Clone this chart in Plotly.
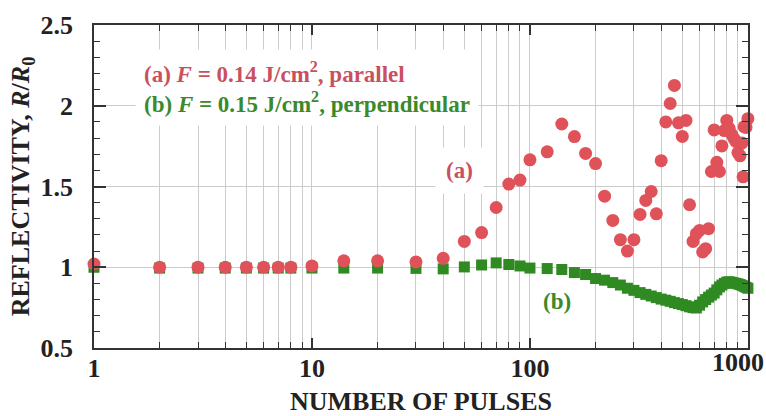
import plotly.graph_objects as go

# ---- data ----
pulses_a = [1, 2, 3, 4, 5, 6, 7, 8, 10, 14, 20, 30, 40, 50, 60, 70, 80, 90, 100,
            120, 140, 160, 180, 200, 220, 240, 260, 280, 300, 320, 340, 360, 380,
            400, 420, 440, 460, 480, 500, 520, 540, 560, 580, 600, 620, 640, 660,
            680, 700, 720, 740, 760, 780, 800, 820, 840, 860, 880, 900, 920, 940,
            950, 960, 980, 1000]
refl_a = [1.02, 1.0, 1.0, 1.0, 1.0, 1.0, 1.0, 1.0, 1.008, 1.04, 1.04, 1.033, 1.055,
          1.16, 1.215, 1.37, 1.515, 1.54, 1.665, 1.715, 1.887, 1.809, 1.705, 1.642,
          1.44, 1.29, 1.171, 1.10, 1.171, 1.327, 1.414, 1.469, 1.331, 1.66, 1.90,
          2.014, 2.126, 1.894, 1.81, 1.909, 1.387, 1.16, 1.208, 1.228, 1.095, 1.115,
          1.239, 1.593, 1.85, 1.65, 1.593, 1.751, 1.846, 1.909, 1.86, 1.825, 1.80,
          1.78, 1.71, 1.69, 1.77, 1.56, 1.87, 1.866, 1.92]

pulses_b = [1, 2, 3, 4, 5, 6, 7, 8, 10, 14, 20, 30, 40, 50, 60, 70, 80, 90, 100,
            120, 140, 160, 180, 200, 220, 240, 260, 280, 300, 320, 340, 360, 380,
            400, 420, 440, 460, 480, 500, 520, 540, 560, 580, 600, 620, 640, 660,
            680, 700, 720, 740, 760, 780, 800, 820, 840, 860, 880, 900, 920, 940,
            960, 980, 1000]
refl_b = [1.0, 0.995, 0.995, 0.995, 0.995, 0.995, 0.995, 0.995, 0.995, 0.995, 0.995,
          0.993, 0.99, 1.002, 1.014, 1.027, 1.017, 1.008, 0.995, 0.992, 0.986, 0.967,
          0.955, 0.93, 0.92, 0.905, 0.89, 0.87, 0.857, 0.843, 0.832, 0.822, 0.812,
          0.803, 0.796, 0.789, 0.781, 0.775, 0.769, 0.762, 0.755, 0.75, 0.748, 0.765,
          0.785, 0.80, 0.815, 0.828, 0.84, 0.86, 0.878, 0.89, 0.90, 0.908, 0.91,
          0.907, 0.903, 0.90, 0.897, 0.893, 0.888, 0.882, 0.876, 0.87]

x_tick_vals = [1, 10, 100]
x_tick_text = ["1", "10", "100"]
x_end_vals = [1000]
x_end_text = ["1000"]
x_minor_vals = [m * d for d in (1, 10, 100) for m in range(2, 10)]
y_tick_vals = [0.5, 1, 1.5, 2, 2.5]
y_tick_text = ["0.5", "1", "1.5", "2", "2.5"]

RED = "#E0525A"
GREEN = "#2F8A22"
RED_TXT = "#C9505E"
GREEN_TXT = "#3A8A2C"
FONT = "Liberation Serif"
GRID = "#CCCCCC"
AX = "#333333"
TXT = "#222222"
X_RANGE = [0, 3.0004]

fig = go.Figure()
fig.add_trace(go.Scatter(x=pulses_b, y=refl_b, mode="markers", cliponaxis=False,
                         marker=dict(symbol="square", size=11, color=GREEN),
                         showlegend=False, hoverinfo="skip"))
fig.add_trace(go.Scatter(x=pulses_a, y=refl_a, mode="markers", cliponaxis=False,
                         marker=dict(symbol="circle", size=13, color=RED),
                         showlegend=False, hoverinfo="skip"))
# empty helper trace so that the overlay axis carrying the "1000" label is drawn
fig.add_trace(go.Scatter(x=[], y=[], xaxis="x2", yaxis="y", mode="markers",
                         showlegend=False, hoverinfo="skip"))

tickfont = dict(family=FONT, size=26, color=TXT, weight="bold")

fig.update_layout(
    width=766, height=416,
    margin=dict(l=94, r=18, t=25, b=68),
    paper_bgcolor="white", plot_bgcolor="white",
    font=dict(family=FONT, size=21, color=TXT),
    xaxis=dict(
        type="log", range=X_RANGE, automargin=False,
        tickmode="array", tickvals=x_tick_vals, ticktext=x_tick_text,
        ticks="inside", ticklen=10, tickwidth=1.5, tickcolor=AX,
        showgrid=True, gridcolor=GRID, gridwidth=1,
        minor=dict(tickmode="array", tickvals=x_minor_vals, ticks="inside",
                   ticklen=6, tickwidth=1, tickcolor=AX,
                   showgrid=True, gridcolor=GRID, gridwidth=1),
        showline=True, linecolor=AX, linewidth=1.5, mirror="ticks",
        zeroline=False, ticklabelstandoff=-4,
        tickfont=tickfont,
        title=dict(text="NUMBER OF PULSES", standoff=14,
                   font=dict(family=FONT, size=26, color=TXT, weight="bold")),
    ),
    xaxis2=dict(
        type="log", range=X_RANGE, overlaying="x", anchor="y", side="bottom",
        automargin=False, tickmode="array", tickvals=x_end_vals, ticktext=x_end_text,
        ticks="", showgrid=False, showline=False, zeroline=False,
        ticklabelstandoff=-4, ticklabelshift=-10, ticklabeloverflow="allow",
        tickfont=tickfont,
    ),
    yaxis=dict(
        range=[0.5, 2.5], automargin=False,
        tickmode="array", tickvals=y_tick_vals, ticktext=y_tick_text,
        ticks="inside", ticklen=12, tickwidth=1.5, tickcolor=AX,
        showgrid=True, gridcolor=GRID, gridwidth=1,
        minor=dict(dtick=0.1, ticks="inside", ticklen=6, tickwidth=1,
                   tickcolor=AX, showgrid=False),
        showline=True, linecolor=AX, linewidth=1.5, mirror="ticks",
        zeroline=False, ticklabelstandoff=14,
        tickfont=tickfont,
        title=dict(text="REFLECTIVITY, <i>R</i>/<i>R</i><sub>0</sub>", standoff=3,
                   font=dict(family=FONT, size=26, color=TXT, weight="bold")),
    ),
)

legend_text = (
    f"<span style='color:{RED_TXT}'>(a) <i>F</i> = 0.14 J/cm<sup>2</sup>, parallel</span>"
    f"<br><span style='color:{GREEN_TXT}'>(b) <i>F</i> = 0.15 J/cm<sup>2</sup>, perpendicular</span>"
)
fig.add_annotation(xref="paper", yref="paper", x=0.062, y=0.805,
                   xanchor="left", yanchor="middle", showarrow=False, align="left",
                   text=legend_text,
                   font=dict(family=FONT, size=23, color=TXT, weight="bold"),
                   bgcolor="white", borderpad=8)
fig.add_annotation(xref="x", yref="y", x=1.679, y=1.6, showarrow=False,
                   text="(a)", font=dict(family=FONT, size=23, color=RED_TXT, weight="bold"),
                   bgcolor="white", borderpad=10)
fig.add_annotation(xref="x", yref="y", x=2.124, y=0.785, showarrow=False,
                   text="(b)", font=dict(family=FONT, size=23, color=GREEN_TXT, weight="bold"),
                   bgcolor="white", borderpad=2)

fig.write_html("out.html")
